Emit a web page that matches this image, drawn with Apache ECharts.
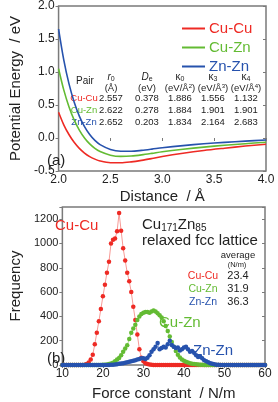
<!DOCTYPE html>
<html><head><meta charset="utf-8">
<script src="https://cdn.jsdelivr.net/npm/echarts@6/dist/echarts.min.js"></script>
<style>html,body{margin:0;padding:0;background:#fff}#c{width:278px;height:402px}</style>
</head><body><div id="c"></div>
<script>
// ---- panel (a): pair potentials ----
var distance = [2.0,2.05,2.1,2.15,2.2,2.25,2.3,2.35,2.4,2.5,2.6,2.7,2.8,2.9,3.0,3.2,3.4,3.6,3.8,4.0];
var eCuCu = [0.39,0.20,0.053,-0.065,-0.157,-0.228,-0.282,-0.320,-0.348,-0.375,-0.376,-0.362,-0.339,-0.311,-0.281,-0.232,-0.19,-0.155,-0.122,-0.095];
var eCuZn = [1.05,0.729,0.474,0.274,0.119,0.0,-0.090,-0.157,-0.205,-0.260,-0.278,-0.273,-0.256,-0.233,-0.208,-0.17,-0.138,-0.11,-0.086,-0.065];
var eZnZn = [1.65,1.184,0.823,0.545,0.332,0.171,0.052,-0.037,-0.100,-0.173,-0.200,-0.201,-0.188,-0.169,-0.148,-0.115,-0.088,-0.066,-0.047,-0.03];
var pairs = ['Cu-Cu','Cu-Zn','Zn-Zn'];
var r0 = ['2.557','2.622','2.652'];
var De = ['0.378','0.278','0.203'];
var k0 = ['1.886','1.884','1.834'];
var k3 = ['1.556','1.901','2.164'];
var k4 = ['1.132','1.901','2.683'];
// ---- panel (b): force-constant histograms ----
var forceK = [10,10.5,11,11.5,12,12.5,13,13.5,14,14.5,15,15.5,16,16.5,17,17.5,18,18.5,19,19.5,20,20.5,21,21.5,22,22.5,23,23.5,24,24.5,25,25.5,26,26.5,27,27.5,28,28.5,29,29.5,30,30.5,31,31.5,32,32.5,33,33.5,34,34.5,35,35.5,36,36.5,37,37.5,38,38.5,39,39.5,40,40.5,41,41.5,42,42.5,43,43.5,44,44.5,45,45.5,46,46.5,47,47.5,48,48.5,49,49.5,50,50.5,51,51.5,52,52.5,53,53.5,54,54.5,55,55.5,56,56.5,57,57.5,58,58.5,59,59.5,60];
var fCuCu = [0,0,0,0,0,0,0,0,0,0,0,3,8,20,45,85,170,265,360,460,565,660,760,850,1000,1030,1040,1100,1250,1105,960,860,760,690,600,480,370,250,130,60,30,15,8,4,2,1,0,0,0,0,0,0,0,0,0,0,0,0,0,0,0,0,0,0,0,0,0,0,0,0,0,0,0,0,0,0,0,0,0,0,0,0,0,0,0,0,0,0,0,0,0,0,0,0,0,0,0,0,0,0,0];
var fCuZn = [0,0,0,0,0,0,0,0,0,0,0,0,0,0,0,0,0,0,0,0,2,3,5,8,12,18,31,45,57,80,110,135,162,214,266,300,331,370,400,420,430,436,436,430,440,449,440,425,410,390,360,320,280,235,190,150,115,85,62,45,35,26,20,15,11,8,6,4,3,2,1,1,0,0,0,0,0,0,0,0,0,0,0,0,0,0,0,0,0,0,0,0,0,0,0,0,0,0,0,0,0];
var fZnZn = [0,0,0,0,0,0,0,0,0,0,0,0,0,0,0,0,0,0,0,0,0,0,0,1,2,3,5,7,10,12,15,18,22,26,30,35,40,45,50,55,55,50,60,80,110,130,150,180,130,140,150,145,170,200,165,150,140,145,120,130,145,150,130,110,115,100,80,65,70,55,40,30,22,15,10,6,3,2,0,0,0,0,0,0,0,0,0,0,0,0,0,0,0,0,0,0,0,0,0,0,0];
var avgK = ['23.4','31.9','36.3'];

var RED='#ee2a24', GREEN='#63bb33', BLUE='#2652ad';
var pairColors=[RED,GREEN,BLUE];
var FONT='Liberation Sans, Arial, sans-serif';
var FRAME='#7a7a7a';

function zip(xs, ys){ return xs.map(function(x,i){return [x, ys[i]];}); }

var chart = echarts.init(document.getElementById('c'), null, {renderer:'canvas'});

var axisCommon = {
  axisLine:{show:false},
  splitLine:{show:false},
  axisTick:{show:true, length:3, lineStyle:{color:FRAME, width:1}},
  axisLabel:{color:'#222', fontSize:12, fontFamily:FONT, margin:3},
  nameTextStyle:{color:'#222', fontSize:15, fontFamily:FONT}
};
function ax(o){ return Object.assign({}, JSON.parse(JSON.stringify(axisCommon)), o); }

var graphics = [];
var colX = [111,147,180,213,246];
var hdr1 = ['{i|r}{s|0}','{i|D}{s|e}','κ{s|0}','κ{s|3}','κ{s|4}'];
var hdr2 = ['(Å)','(eV)','(eV/Å{p|2})','(eV/Å{p|3})','(eV/Å{p|4})'];
var richT = {i:{fontStyle:'italic',fontSize:10,fontFamily:FONT,fill:'#222'}, s:{fontSize:7,fontFamily:FONT,verticalAlign:'bottom',padding:[4,0,0,0]}, p:{fontSize:6,fontFamily:FONT,verticalAlign:'top',padding:[0,0,4,0]}};
graphics.push({type:'text', left:76, top:76, style:{text:'Pair', font:'10px '+FONT, fill:'#222'}});
for (var c=0;c<5;c++){
  graphics.push({type:'text', x:colX[c], y:77, style:{text:hdr1[c], font:'10px '+FONT, fill:'#222', align:'center', verticalAlign:'middle', rich:richT}});
  graphics.push({type:'text', x:colX[c], y:88, style:{text:hdr2[c], font:'9.5px '+FONT, fill:'#222', align:'center', verticalAlign:'middle', rich:richT}});
}
var cols=[r0,De,k0,k3,k4];
for (var r=0;r<3;r++){
  var yy = 98 + r*12;
  graphics.push({type:'text', x:84, y:yy, style:{text:pairs[r], font:'9.5px '+FONT, fill:pairColors[r], align:'center', verticalAlign:'middle'}});
  for (var c2=0;c2<5;c2++){
    graphics.push({type:'text', x:colX[c2], y:yy, style:{text:cols[c2][r], font:'9.5px '+FONT, fill:'#222', align:'center', verticalAlign:'middle'}});
  }
}
graphics.push({type:'text', x:47, y:161, style:{text:'(a)', font:'15px '+FONT, fill:'#222', verticalAlign:'middle'}});
graphics.push({type:'text', x:55, y:226, style:{text:'Cu-Cu', font:'15px '+FONT, fill:RED, verticalAlign:'middle'}});
graphics.push({type:'text', x:142, y:225, style:{text:'Cu{s|171}Zn{s|85}', font:'15px '+FONT, fill:'#222', verticalAlign:'middle', rich:{s:{fontSize:10,fontFamily:FONT,fill:'#222',verticalAlign:'bottom',padding:[7,0,0,0]}}}});
graphics.push({type:'text', x:142, y:241, style:{text:'relaxed fcc lattice', font:'15px '+FONT, fill:'#222', verticalAlign:'middle'}});
graphics.push({type:'text', x:238, y:255, style:{text:'average', font:'9.5px '+FONT, fill:'#222', align:'center', verticalAlign:'middle'}});
graphics.push({type:'text', x:237, y:265, style:{text:'(N/m)', font:'7.5px '+FONT, fill:'#222', align:'center', verticalAlign:'middle'}});
for (var r2=0;r2<3;r2++){
  var y2 = 276 + r2*13;
  graphics.push({type:'text', x:203, y:y2, style:{text:pairs[r2], font:'10.5px '+FONT, fill:pairColors[r2], align:'center', verticalAlign:'middle'}});
  graphics.push({type:'text', x:238, y:y2, style:{text:avgK[r2], font:'11px '+FONT, fill:'#222', align:'center', verticalAlign:'middle'}});
}
graphics.push({type:'text', x:159, y:323, style:{text:'Cu-Zn', font:'15px '+FONT, fill:GREEN, verticalAlign:'middle'}});
graphics.push({type:'text', x:193, y:351, style:{text:'Zn-Zn', font:'15px '+FONT, fill:BLUE, verticalAlign:'middle'}});
graphics.push({type:'text', x:47, y:359, style:{text:'(b)', font:'15px '+FONT, fill:'#222', verticalAlign:'middle'}});

var option = {
  animation:false,
  backgroundColor:'#fff',
  textStyle:{fontFamily:FONT},
  grid:[
    {left:43, top:5, width:223, height:166, show:true, borderColor:FRAME, borderWidth:1.5, backgroundColor:'transparent'},
    {left:43, top:207, width:222, height:165, show:true, borderColor:FRAME, borderWidth:1.5, backgroundColor:'transparent'}
  ],
  legend:{
    orient:'vertical', left:177, top:16, itemWidth:23, itemHeight:2, itemGap:4, icon:'rect',
    data:[{name:'Cu-Cu', itemStyle:{color:RED}, textStyle:{color:RED}},{name:'Cu-Zn', itemStyle:{color:GREEN}, textStyle:{color:GREEN}},{name:'Zn-Zn', itemStyle:{color:BLUE}, textStyle:{color:BLUE}}],
    textStyle:{fontSize:15, fontFamily:FONT, padding:[0,0,0,-1]},
    selectedMode:false
  },
  xAxis:[
    ax({gridIndex:0, type:'value', min:2, max:4, interval:0.5, name:'Distance  / Å', nameLocation:'middle', nameGap:18,
        axisLabel:{color:'#222', fontSize:12, fontFamily:FONT, margin:3, formatter:function(v){return v.toFixed(1);}}}),
    ax({gridIndex:0, type:'value', position:'top', min:2, max:4, interval:0.5, axisLabel:{show:false}, axisTick:{show:true, inside:true, length:3, lineStyle:{color:FRAME}}}),
    ax({gridIndex:1, type:'value', min:10, max:60, interval:10, name:'Force constant  / N/m', nameLocation:'middle', nameGap:21}),
    ax({gridIndex:1, type:'value', position:'top', min:10, max:60, interval:10, axisLabel:{show:false}, axisTick:{show:true, inside:true, length:3, lineStyle:{color:FRAME}}})
  ],
  yAxis:[
    ax({gridIndex:0, type:'value', min:-0.5, max:2.0, interval:0.5, name:'Potential Energy  / eV', nameLocation:'middle', nameGap:27,
        axisLabel:{color:'#222', fontSize:12, fontFamily:FONT, margin:4, formatter:function(v){return v.toFixed(1);}}}),
    ax({gridIndex:0, type:'value', position:'right', min:-0.5, max:2.0, interval:0.5, axisLabel:{show:false}, axisTick:{show:true, inside:true, length:3, lineStyle:{color:FRAME}}}),
    ax({gridIndex:1, type:'value', min:0, max:1300, interval:200, name:'Frequency', nameLocation:'middle', nameGap:30,
        axisLabel:{color:'#222', fontSize:11, fontFamily:FONT, margin:4, formatter:function(v){return v%200===0?String(v):'';}}}),
    ax({gridIndex:1, type:'value', position:'right', min:0, max:1300, interval:200, axisLabel:{show:false}, axisTick:{show:true, inside:true, length:3, lineStyle:{color:FRAME}}})
  ],
  series:[
    {name:'Cu-Cu', type:'line', xAxisIndex:0, yAxisIndex:0, data:zip(distance,eCuCu), smooth:0.3, symbol:'none', lineStyle:{color:RED, width:1.6}, itemStyle:{color:RED}},
    {name:'Cu-Zn', type:'line', xAxisIndex:0, yAxisIndex:0, data:zip(distance,eCuZn), smooth:0.3, symbol:'none', lineStyle:{color:GREEN, width:1.6}, itemStyle:{color:GREEN}},
    {name:'Zn-Zn', type:'line', xAxisIndex:0, yAxisIndex:0, data:zip(distance,eZnZn), smooth:0.3, symbol:'none', lineStyle:{color:BLUE, width:1.6}, itemStyle:{color:BLUE}},
    {name:'hCuCu', type:'line', xAxisIndex:2, yAxisIndex:2, data:zip(forceK,fCuCu), symbol:'circle', symbolSize:4.5, lineStyle:{color:'#f79a96', width:1}, itemStyle:{color:RED}},
    {name:'hCuZn', type:'line', xAxisIndex:2, yAxisIndex:2, data:zip(forceK,fCuZn), symbol:'circle', symbolSize:4.5, lineStyle:{color:'#a9dc8a', width:1}, itemStyle:{color:GREEN}},
    {name:'hZnZn', type:'line', xAxisIndex:2, yAxisIndex:2, data:zip(forceK,fZnZn), symbol:'circle', symbolSize:4.5, lineStyle:{color:'#8aa6dc', width:1}, itemStyle:{color:BLUE}}
  ],
  graphic:graphics
};
chart.setOption(option);
</script></body></html>
